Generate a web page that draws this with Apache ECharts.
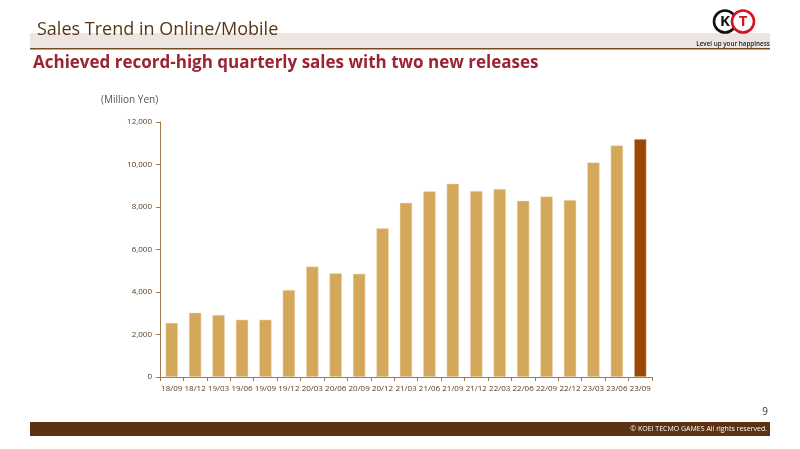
<!DOCTYPE html>
<html><head><meta charset="utf-8">
<script src="https://cdn.jsdelivr.net/npm/echarts@6/dist/echarts.min.js"></script>
<style>html,body{margin:0;padding:0;background:#fff}#c{width:800px;height:449px}</style>
</head><body><div id="c"></div>
<script>
const categories = ['18/09','18/12','19/03','19/06','19/09','19/12','20/03','20/06','20/09','20/12','21/03','21/06','21/09','21/12','22/03','22/06','22/09','22/12','23/03','23/06','23/09'];
const sales = [2550,3030,2920,2700,2700,4100,5200,4880,4860,7000,8200,8740,9100,8750,8850,8300,8500,8330,10100,10900,11200];
const highlightIndex = 20;
const yTicks = {min:0, max:12000, interval:2000};

const chart = echarts.init(document.getElementById('c'), null, {renderer:'canvas'});
const F = '"Open Sans","Noto Sans",sans-serif';
chart.setOption({
  animation:false,
  grid:{left:160, right:148, top:122, bottom:72},
  xAxis:{type:'category', data:categories,
    axisLine:{lineStyle:{color:'#a07850', width:1}},
    axisTick:{show:true, lineStyle:{color:'#a07850'}, length:4},
    axisLabel:{color:'#5a3a1a', fontSize:8, fontFamily:F, margin:8, interval:0}},
  yAxis:{type:'value', min:yTicks.min, max:yTicks.max, interval:yTicks.interval,
    axisLine:{show:true, lineStyle:{color:'#a07850'}},
    axisTick:{show:true, lineStyle:{color:'#a07850'}, length:4},
    splitLine:{show:false},
    axisLabel:{color:'#5a3a1a', fontSize:8, fontFamily:F, margin:8,
      formatter:v=>v.toLocaleString('en-US')}},
  series:[{type:'bar', barWidth:12.5,
    data:sales.map((v,i)=>({value:v, itemStyle:{color: i===highlightIndex?'#9a4808':'#d4a85a'}})),
    itemStyle:{borderColor:'rgba(245,225,195,0.8)', borderWidth:0.6}}],
  graphic:[
    {type:'rect', shape:{x:30,y:33,width:740,height:15}, style:{fill:'#ede5e2'}},
    {type:'rect', shape:{x:30,y:48,width:740,height:1.5}, style:{fill:'#7a4a20'}},
    {type:'text', left:37, top:21, style:{text:'Sales Trend in Online/Mobile', fill:'#5a3512', font:'18px '+F}},
    {type:'text', left:33, top:55, style:{text:'Achieved record-high quarterly sales with two new releases', fill:'#9b2335', font:'bold 17px '+F}},
    {type:'text', left:101, top:95, style:{text:'(Million Yen)', fill:'#555', font:'10px '+F}},
    {type:'circle', shape:{cx:725,cy:21.5,r:11}, style:{fill:'#fff', stroke:'#111', lineWidth:2.6}},
    {type:'circle', shape:{cx:743,cy:21.5,r:11}, style:{fill:'#fff', stroke:'#d6141c', lineWidth:2.6}},
    {type:'text', x:725, y:22, style:{text:'K', fill:'#111', font:'bold 15px '+F, align:'center', verticalAlign:'middle'}},
    {type:'text', x:743, y:22, style:{text:'T', fill:'#d6141c', font:'bold 15px '+F, align:'center', verticalAlign:'middle'}},
    {type:'text', x:733, y:44, style:{text:'Level up your happiness', fill:'#222', font:'600 6.3px '+F, align:'center', verticalAlign:'middle'}},
    {type:'text', x:768, y:412, style:{text:'9', fill:'#333', font:'10px '+F, align:'right', verticalAlign:'middle'}},
    {type:'rect', shape:{x:30,y:422,width:740,height:14}, style:{fill:'#5c3213'}},
    {type:'text', x:767, y:429, style:{text:'© KOEI TECMO GAMES All rights reserved.', fill:'#fff', font:'7px '+F, align:'right', verticalAlign:'middle'}}
  ]
});
</script></body></html>
